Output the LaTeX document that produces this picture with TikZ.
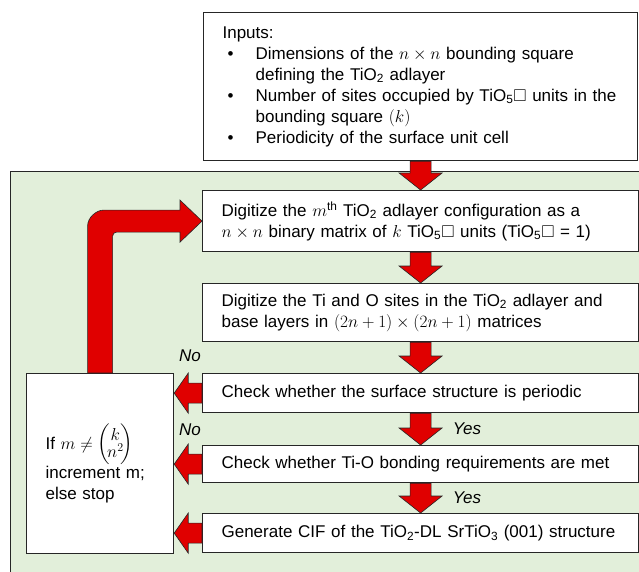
\documentclass[tikz,border=0pt]{standalone}
\usepackage{amsmath,amssymb}
\usepackage{fontspec}
\setmainfont{Liberation Sans}
\usetikzlibrary{calc}
\definecolor{panelgreen}{RGB}{226,239,218}
\definecolor{arrowred}{RGB}{224,0,0}
\newcommand\sqbox{\ensuremath{\square}}
\newcommand\blt{\makebox[33pt][l]{\hspace{5pt}\textbullet}}
\tikzset{
  box/.style={draw=black!85, line width=1.2pt, fill=white, anchor=north west,
    inner xsep=19pt, inner ysep=0pt, align=left, font=\fontsize{17}{21}\selectfont},
  blockarrow/.style={fill=arrowred, draw=black!85, line width=0.6pt, line join=miter},
  lbl/.style={font=\fontsize{17}{21}\selectfont\itshape, inner sep=0pt},
  panel/.style={fill=panelgreen, draw=black!85, line width=1pt}
}
\newcommand\downarr[2]{%
  \draw[blockarrow] ($(#1.south)+(-10.5,0)$) -- ($(#2.north)+(-10.5,-17)$)
    -- ($(#2.north)+(-21.5,-17)$) -- (#2.north) -- ($(#2.north)+(21.5,-17)$)
    -- ($(#2.north)+(10.5,-17)$) -- ($(#1.south)+(10.5,0)$) -- cycle;}
\newcommand\leftarr[2]{%
  \draw[blockarrow] ($(#1.west)+(0,-10)$) -- ($(#1.west -| #2.east)+(14,-10)$)
    -- ($(#1.west -| #2.east)+(14,-20)$) -- (#1.west -| #2.east)
    -- ($(#1.west -| #2.east)+(14,20)$) -- ($(#1.west -| #2.east)+(14,10)$)
    -- ($(#1.west)+(0,10)$) -- cycle;}
\begin{document}
\begin{tikzpicture}[x=1pt,y=-1pt]
\useasboundingbox (0,0) rectangle (639,571);
\clip (0,0) rectangle (639,571);
% green panel
\draw[panel] (10,171) rectangle (680,600);
% input box
\node[box, text width=396pt, minimum height=148pt] (inp) at (203,12) {%
\begin{tabular}{@{}l@{}l@{}}
\multicolumn{2}{@{}l@{}}{Inputs:}\\
\blt & Dimensions of the $n\times n$ bounding square\\
 & defining the TiO\textsubscript{2} adlayer\\
\blt & Number of sites occupied by TiO\textsubscript{5}\sqbox{} units in the\\
 & bounding square $(k)$\\
\blt & Periodicity of the surface unit cell
\end{tabular}};
% process boxes
\node[box, text width=398pt, minimum height=61pt] (b1) at (202,190)
  {Digitize the $m^{\mathrm{th}}$ TiO\textsubscript{2} adlayer configuration as a\\
   $n\times n$ binary matrix of $k$ TiO\textsubscript{5}\sqbox{} units (TiO\textsubscript{5}\sqbox{} = 1)};
\node[box, text width=398pt, minimum height=58pt] (b2) at (202,283)
  {Digitize the Ti and O sites in the TiO\textsubscript{2} adlayer and\\
   base layers in $(2n+1)\times(2n+1)$ matrices};
\node[box, text width=398pt, minimum height=39pt] (b3) at (202,373)
  {Check whether the surface structure is periodic};
\node[box, text width=398pt, minimum height=37pt] (b4) at (202,445)
  {Check whether Ti-O bonding requirements are met};
\node[box, text width=398pt, minimum height=39pt] (b5) at (202,513)
  {Generate CIF of the TiO\textsubscript{2}-DL SrTiO\textsubscript{3} (001) structure};
% left box
\node[box, text width=109pt, minimum height=180pt] (lb) at (26,373)
  {If $m \neq \left(\!\begin{matrix}k\\[-4pt] n^2\end{matrix}\!\right)$\\ increment m;\\ else stop};
% vertical arrows
\downarr{inp}{b1}
\downarr{b1}{b2}
\downarr{b2}{b3}
\downarr{b3}{b4}
\downarr{b4}{b5}
% left arrows
\leftarr{b3}{lb}
\leftarr{b4}{lb}
\leftarr{b5}{lb}
% loop arrow
\coordinate (L0) at (lb.north);
\coordinate (Bw) at (b1.west);
\coordinate (LC) at (L0 |- Bw);
\draw[blockarrow] ($(L0)+(-12.5,0)$) -- ($(LC)+(-12.5,5)$)
  .. controls ($(LC)+(-12.5,-3.8)$) and ($(LC)+(-3.7,-11)$) .. ($(LC)+(3.5,-11)$)
  -- ($(Bw)+(-22,-11)$) -- ($(Bw)+(-22,-21)$) -- (Bw) -- ($(Bw)+(-22,21)$)
  -- ($(Bw)+(-22,11)$) -- ($(LC)+(16.5,11)$)
  .. controls ($(LC)+(14.3,11)$) and ($(LC)+(12.5,12.8)$) .. ($(LC)+(12.5,15)$)
  -- ($(L0)+(12.5,0)$) -- cycle;
% labels
\node[lbl] (no1) at (190,356) {No};
\node[lbl] (no2) at (190,430) {No};
\node[lbl] (yes1) at (467,429) {Yes};
\node[lbl] (yes2) at (467,498) {Yes};
\end{tikzpicture}
\end{document}
